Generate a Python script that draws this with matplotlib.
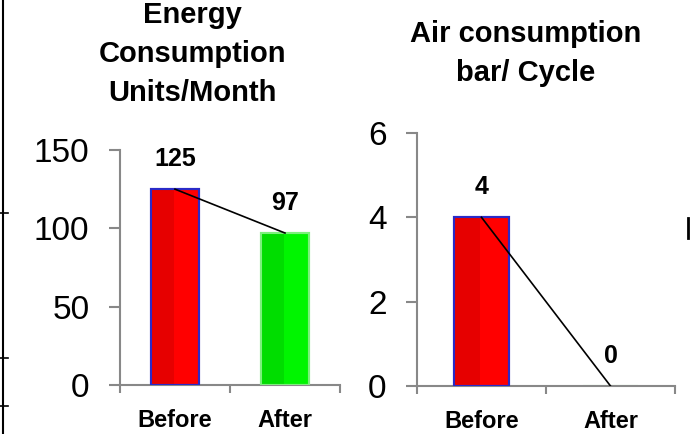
import matplotlib
matplotlib.use("Agg")
import matplotlib.pyplot as plt
from matplotlib.lines import Line2D
from matplotlib.patches import Rectangle

categories = ["Before", "After"]
energy_values = [125, 97]
air_values = [4, 0]
energy_title = "Energy\nConsumption\nUnits/Month"
air_title = "Air consumption\nbar/ Cycle"
energy_yticks = [0, 50, 100, 150]
air_yticks = [0, 2, 4, 6]

NARROW = ["Liberation Sans Narrow", "Liberation Sans", "DejaVu Sans"]
REG = ["Liberation Sans", "DejaVu Sans"]

W, H = 690, 434
fig = plt.figure(figsize=(6.9, 4.34), dpi=100)

def px(x0, y0, x1, y1):
    return [x0 / W, 1 - y1 / H, (x1 - x0) / W, (y1 - y0) / H]

ax1 = fig.add_axes(px(120, 150, 340, 385))
ax2 = fig.add_axes(px(417, 133, 675, 386))

bar_colors = ["#FF0000", "#00F500"]
edge_colors = ["#2A2AC8", "#7CF07C"]
dark_colors = ["#E60000", "#00DD00"]

def draw(ax, vals, yticks, width):
    xs = list(range(len(categories)))
    bars = ax.bar(xs, vals, width=width, color=bar_colors, edgecolor=edge_colors,
                  linewidth=1.5, zorder=2)
    for b, dc in zip(bars, dark_colors):
        if b.get_height() > 0:
            ax.add_patch(Rectangle((b.get_x(), b.get_y()), b.get_width() * 0.48,
                                   b.get_height(), facecolor=dc, edgecolor="none",
                                   zorder=2.5))
            ax.add_patch(Rectangle((b.get_x(), b.get_y()), b.get_width(),
                                   b.get_height(), facecolor="none",
                                   edgecolor=b.get_edgecolor(), linewidth=1.5,
                                   zorder=2.6))
    ax.plot(xs, vals, color="black", linewidth=1.2, zorder=3)
    for x, v in zip(xs, vals):
        ax.annotate(str(v), (x, v), xytext=(0, 13), textcoords="offset points",
                    ha="center", va="bottom", fontsize=18, fontweight="bold",
                    family=NARROW)
    ax.set_xlim(-0.5, len(categories) - 0.5)
    ax.set_ylim(yticks[0], yticks[-1])
    ax.set_yticks(yticks)
    ax.set_yticklabels([str(t) for t in yticks], fontsize=24, family=REG)
    ax.set_xticks(xs)
    ax.set_xticklabels(categories, fontsize=17, fontweight="bold", family=NARROW)
    ax.set_xticks([i - 0.5 for i in range(len(categories) + 1)], minor=True)
    ax.tick_params(axis="x", which="major", length=0, pad=17)
    ax.tick_params(axis="x", which="minor", length=6, color="#888888", width=1.5)
    ax.tick_params(axis="y", length=8, color="#888888", width=1.5, pad=14)
    for s in ["top", "right"]:
        ax.spines[s].set_visible(False)
    for s in ["left", "bottom"]:
        ax.spines[s].set_color("#888888")
        ax.spines[s].set_linewidth(1.5)
    ax.patch.set_visible(False)

draw(ax1, energy_values, energy_yticks, 0.44)
draw(ax2, air_values, air_yticks, 0.42)

fig.text(192 / W, 1 - 1 / H, energy_title, ha="center", va="top", fontsize=21,
         fontweight="bold", family=NARROW, linespacing=1.5)
fig.text(526 / W, 1 - 20 / H, air_title, ha="center", va="top", fontsize=21,
         fontweight="bold", family=NARROW, linespacing=1.5)

# cropped-slide frame remnants
fig.add_artist(Line2D([3 / W, 3 / W], [0, 1], color="black", linewidth=1.5))
for yy in [213, 358, 406]:
    fig.add_artist(Line2D([0, 8 / W], [1 - yy / H, 1 - yy / H], color="black", linewidth=1.2))
fig.add_artist(Line2D([688 / W, 688 / W], [1 - 218 / H, 1 - 238 / H], color="black", linewidth=2))

fig.savefig("out.png", dpi=100)
